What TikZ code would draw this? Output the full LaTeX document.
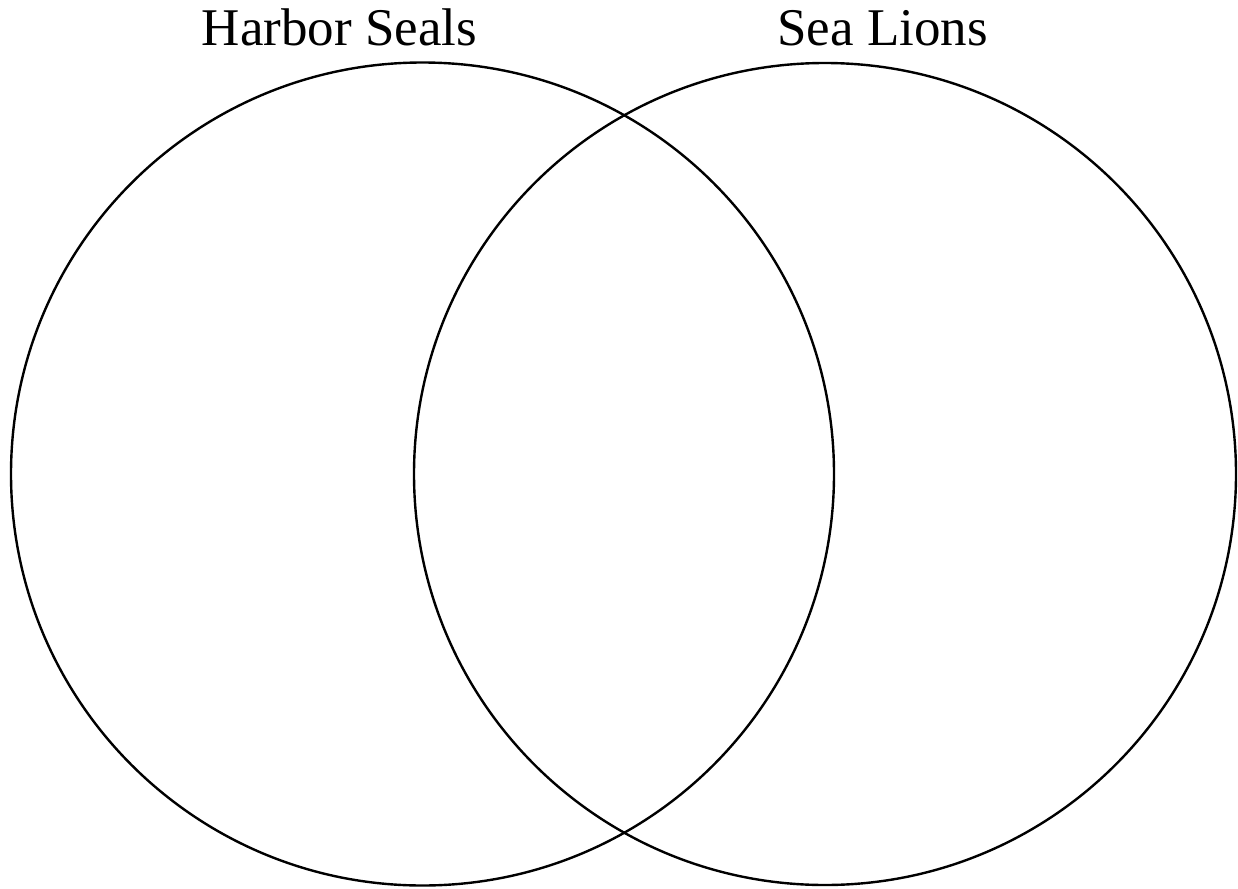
\documentclass[tikz,border=0pt]{standalone}
\usepackage{fontspec}
\setmainfont{Liberation Serif}
\begin{document}
\begin{tikzpicture}[x=1pt,y=-1pt,
  venn/.style={draw=black,line width=2.4pt},
  lbl/.style={anchor=base,inner sep=0pt,font=\fontsize{53}{53}\selectfont}]
\useasboundingbox (0,0) rectangle (1238,888);
\node[venn,circle,minimum size=823pt,inner sep=0pt] (left) at (422.5,474) {};
\node[venn,circle,minimum size=822pt,inner sep=0pt] (right) at (825,474) {};
\node[lbl] (hs) at (339.5,46) {Harbor Seals};
\node[lbl] (sl) at (882.5,46) {Sea Lions};
\end{tikzpicture}
\end{document}
